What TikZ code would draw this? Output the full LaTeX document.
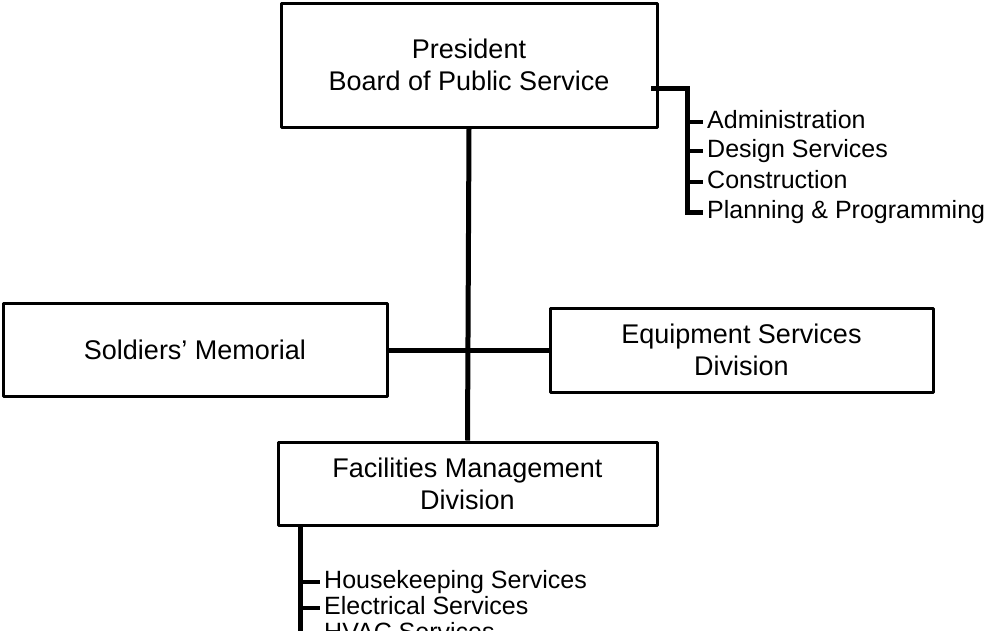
\documentclass[tikz,border=0pt]{standalone}
\usepackage{fontspec}
\setmainfont{Liberation Sans}

\tikzset{
  unitbox/.style={draw=black, line width=3pt, line join=round, align=center,
    font=\fontsize{27}{32}\selectfont, inner sep=0pt},
  item/.style={anchor=west, inner sep=4pt, text height=18pt, text depth=5pt,
    font=\fontsize{25}{28}\selectfont},
  link/.style={line width=5pt},
  tick/.style={line width=4.5pt}
}

\begin{document}
\begin{tikzpicture}[x=1pt, y=-1pt]
    \useasboundingbox (0,0) rectangle (994,630);

    % draw the boxes
    \node[unitbox, minimum width=376pt, minimum height=124pt] (pres) at (469,65)
        {President\\Board of Public Service};
    \node[unitbox, minimum width=384pt, minimum height=93pt] (soldiers) at (195,350)
        {Soldiers’ Memorial};
    \node[unitbox, minimum width=383pt, minimum height=84pt] (equip) at (741.5,350)
        {Equipment Services\\Division};
    \node[unitbox, minimum width=379pt, minimum height=83pt] (facil) at (467.5,483.5)
        {Facilities Management\\Division};

    % main connectors
    \draw[link] (pres.south) -- (facil.north);
    \draw[link] (soldiers.east) -- (equip.west);

    % staff offices of the president
    \coordinate (tap) at (651,88);
    \coordinate (bend) at (687,88);
    \node[item] (admin) at (703,122) {Administration};
    \node[item] (design) at (703,151) {Design Services};
    \node[item] (constr) at (703,182) {Construction};
    \node[item] (plan) at (703,212) {Planning \& Programming};
    \draw[link] (tap) -- (bend) -- (bend |- plan.west) -- (plan.west);
    \foreach \n in {admin,design,constr}
        \draw[tick] (bend |- \n.west) -- (\n.west);

    % services under facilities management
    \coordinate (fstem) at (300,525);
    \coordinate (fend) at (300,660);
    \node[item] (house) at (320,582) {Housekeeping Services};
    \node[item] (elec) at (320,608) {Electrical Services};
    \node[item] (hvac) at (320,634) {HVAC Services};
    \draw[link] (fstem) -- (fend);
    \foreach \n in {house,elec,hvac}
        \draw[tick] (fstem |- \n.west) -- (\n.west);
\end{tikzpicture}
\end{document}
